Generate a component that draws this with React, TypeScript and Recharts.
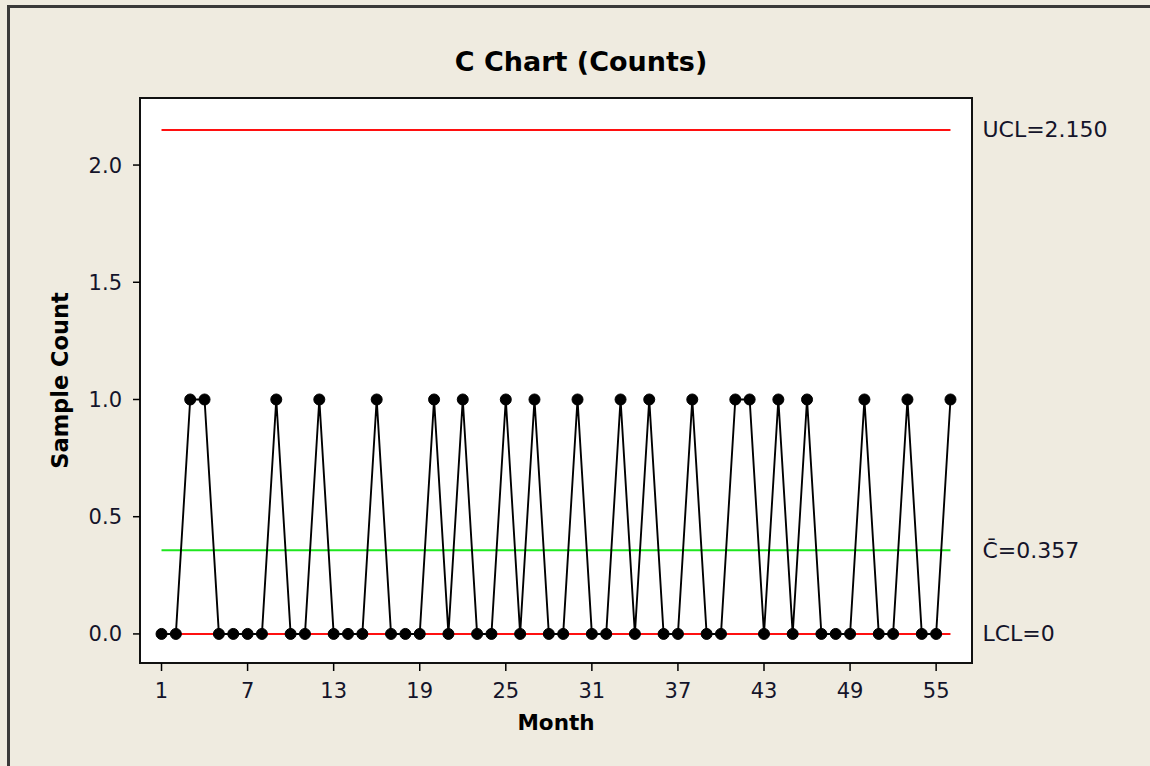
import React from "react";
import { ComposedChart, Line, XAxis, YAxis, ReferenceLine, ReferenceArea, Label } from "recharts";

const months = [1,2,3,4,5,6,7,8,9,10,11,12,13,14,15,16,17,18,19,20,21,22,23,24,25,26,27,28,29,30,31,32,33,34,35,36,37,38,39,40,41,42,43,44,45,46,47,48,49,50,51,52,53,54,55,56];
const counts = [
  0,0,1,1,0,0,0,0,1,0,
  0,1,0,0,0,1,0,0,0,1,
  0,1,0,0,1,0,1,0,0,1,
  0,0,1,0,1,0,0,1,0,0,
  1,1,0,1,0,1,0,0,0,1,
  0,0,1,0,0,1,
];
const xTicks = [1,7,13,19,25,31,37,43,49,55];
const yTicks = [0,0.5,1.0,1.5,2.0];
const UCL = 2.15;
const CBAR = 0.357;
const LCL = 0;
const title = "C Chart (Counts)";
const xTitle = "Month";
const yTitle = "Sample Count";

const data = months.map((m, i) => ({ month: m, count: counts[i] }));

const FONT = "'DejaVu Sans', Verdana, sans-serif";
const TXT = "#14142a";
const X_DOMAIN: [number, number] = [-0.5, 57.5];
const Y_DOMAIN: [number, number] = [-0.124, 2.286];

const sideLabel = (text: string) => (props: any) => {
  const vb = props.viewBox || {};
  const x = (vb.x ?? 0) + (vb.width ?? 0) + 32;
  const y = (vb.y ?? 0) + (vb.height ?? 0) / 2;
  return (
    <text x={x} y={y} fill={TXT} fontFamily={FONT} fontSize={22} dominantBaseline="central" textAnchor="start">
      {text}
    </text>
  );
};

export default function App() {
  return (
    <div style={{ position: "absolute", left: 0, top: 0, width: 1150, height: 766, overflow: "hidden", background: "#EFEBE0" }}>
      <div style={{ position: "absolute", left: 7, top: 5, width: 1300, height: 900, borderTop: "3px solid #3a3a3a", borderLeft: "3px solid #3a3a3a", boxSizing: "border-box" }} />
      <div style={{ position: "absolute", left: 0, top: 43, width: 1162, textAlign: "center", fontFamily: FONT, fontWeight: "bold", fontSize: 27, color: "#000", lineHeight: "38px" }}>
        {title}
      </div>
      <div style={{ position: "absolute", left: 0, top: 0 }}>
        <ComposedChart width={1150} height={766} data={data} margin={{ top: 98, right: 178, bottom: 63, left: 40 }}>
          <ReferenceArea x1={X_DOMAIN[0]} x2={X_DOMAIN[1]} y1={Y_DOMAIN[0]} y2={Y_DOMAIN[1]} fill="#ffffff" fillOpacity={1} stroke="none" ifOverflow="visible" />
          <XAxis
            dataKey="month"
            type="number"
            domain={X_DOMAIN}
            ticks={xTicks}
            interval={0}
            allowDataOverflow
            height={40}
            axisLine={false}
            tickLine={{ stroke: "#000", strokeWidth: 1.5 }}
            tickSize={8}
            tickMargin={12}
            tick={{ fill: TXT, fontFamily: FONT, fontSize: 21 }}
          >
            <Label
              content={(p: any) => {
                const vb = p.viewBox || {};
                return (
                  <text x={vb.x + vb.width / 2} y={722} textAnchor="middle" dominantBaseline="central" fontFamily={FONT} fontWeight="bold" fontSize={21.5} fill="#000">
                    {xTitle}
                  </text>
                );
              }}
            />
          </XAxis>
          <YAxis
            type="number"
            domain={Y_DOMAIN}
            ticks={yTicks}
            allowDataOverflow
            width={100}
            axisLine={false}
            tickLine={{ stroke: "#000", strokeWidth: 1.5 }}
            tickSize={7}
            tickMargin={11}
            tickFormatter={(v: number) => v.toFixed(1)}
            tick={{ fill: TXT, fontFamily: FONT, fontSize: 21 }}
          >
            <Label
              content={(p: any) => {
                const vb = p.viewBox || {};
                const cy = vb.y + vb.height / 2;
                return (
                  <text x={60} y={cy} transform={`rotate(-90 60 ${cy})`} textAnchor="middle" dominantBaseline="central" fontFamily={FONT} fontWeight="bold" fontSize={22.5} fill="#000">
                    {yTitle}
                  </text>
                );
              }}
            />
          </YAxis>
          <ReferenceLine segment={[{ x: 1, y: UCL }, { x: 56, y: UCL }]} stroke="#ff1010" strokeWidth={2} ifOverflow="visible" label={sideLabel("UCL=2.150")} />
          <ReferenceLine segment={[{ x: 1, y: CBAR }, { x: 56, y: CBAR }]} stroke="#1ee61e" strokeWidth={2} ifOverflow="visible" label={sideLabel("C\u0304=0.357")} />
          <ReferenceLine segment={[{ x: 1, y: LCL }, { x: 56, y: LCL }]} stroke="#ff1010" strokeWidth={2} ifOverflow="visible" label={sideLabel("LCL=0")} />
          <Line
            type="linear"
            dataKey="count"
            stroke="#000"
            strokeWidth={1.9}
            dot={{ r: 5.5, fill: "#000", stroke: "#000", strokeWidth: 1 }}
            isAnimationActive={false}
          />
          <ReferenceArea x1={X_DOMAIN[0]} x2={X_DOMAIN[1]} y1={Y_DOMAIN[0]} y2={Y_DOMAIN[1]} fill="none" stroke="#111" strokeWidth={2} ifOverflow="visible" />
        </ComposedChart>
      </div>
    </div>
  );
}
